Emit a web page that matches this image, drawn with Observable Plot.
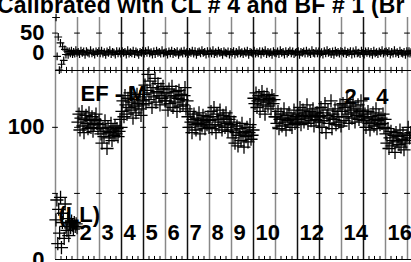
<!DOCTYPE html>
<html><head><meta charset="utf-8">
<script src="https://cdn.jsdelivr.net/npm/d3@7"></script>
<script src="https://cdn.jsdelivr.net/npm/@observablehq/plot@0.6"></script>
<style>
html,body{margin:0;padding:0;background:#fff;width:411px;height:262px;overflow:hidden;position:relative;}
#title{position:absolute;left:-3px;top:-6px;white-space:nowrap;font:bold 23px/23px "Liberation Sans",Arial,sans-serif;letter-spacing:0.15px;color:#000;}
#topPanel,#botPanel{position:absolute;left:0;}
#topPanel{top:0;} #botPanel{top:69px;}
svg{overflow:visible;}
</style></head>
<body>
<div id="title">Calibrated with CL # 4 and BF # 1 (Br</div>
<div id="topPanel"></div>
<div id="botPanel"></div>
<script>
// ---- data ----
const days = [1,2,3,4,5,6,7,8,9,10,11,12,13,14,15,16,17];
const lineColors = ["#888","#888","#888","#111","#111","#888","#111","#888","#888","#111","#888","#111","#111","#888","#111","#888","#888"];
const dayLabelText = ["2","3","4","5","6","7","8","9","10","12","14","16"];
const dayLabelX = [2,3,4,5,6,7,8,9,10,12,14,16];
const yTicksTop = [0, 50];
const yTicksBottom = [0, 100];
const axisTickValues = [50, 100];
const annText = ["EF - M", "2 - 4", "(LL)"];
const annX = [2, 14, 1];
const annY = [120, 118, 28];

// top panel (differences), values per day
const topVals = [
  [90,-10,40,-45,25,-30,15,-20,8,-5,4,-6,3,-2,5,-4,2,-3,6,-1],
  [2,-4,5,-1,3,-6,4,0,-3,6,-2,1,-5,3,-1,4],
  [-2,5,-3,1,-6,3,-1,6,-4,2,0,-5,4,-2,3,-3],
  [4,-1,2,-5,6,-3,1,-2,5,-4,3,0,-6,2,-1,5],
  [-3,4,-1,6,-2,1,-5,3,-4,5,-1,2,-3,6,-2,0],
  [1,-5,3,-2,5,-4,2,-1,4,-6,0,3,-3,5,-2,1],
  [-4,2,-1,5,-3,4,-6,1,3,-2,6,-1,2,-5,4,-3],
  [3,-2,6,-4,1,-3,5,-1,2,-6,4,0,-2,3,-5,2],
  [-1,4,-5,2,-3,6,-2,1,-4,3,-1,5,-6,2,0,-3],
  [5,-3,1,-2,4,-5,3,-1,6,-4,2,-2,1,-6,4,-1],
  [-2,3,-4,6,-1,2,-5,4,-3,1,5,-2,3,-4,0,2],
  [4,-6,2,-1,3,-3,5,-2,1,-4,6,-1,-3,4,-2,3],
  [-3,1,-5,4,-2,6,-1,2,-4,3,-6,5,-1,2,-3,4],
  [2,-2,5,-4,1,-1,4,-5,3,-3,6,-2,0,-4,5,-1],
  [-5,3,-1,4,-3,2,-6,5,-2,1,-4,3,-1,6,-3,2],
  [3,-1,4,-5,2,-3,6,-2,1,-4,5,-1,-3,2,-6,4],
  [-2,4,-3,1]
];
// bottom panel (EF), values per day
const botVals = [
  [30,45,12,38,20,47,9,28,35,16,42,25,22,31,18,27,24,29,26,23,28,25,27,24],
  [104,110,98,107,112,101,96,106,109,103,99,111,105,100,108,97,102,106,110,103,99,105],
  [102,95,88,99,93,105,97,84,100,92,96,103,90,98,94,101,95,99,93,97,106,100],
  [112,120,108,124,117,110,122,115,126,113,119,107,121,116,111,125,118,114,123,109,117,120],
  [125,132,118,128,140,121,135,126,115,130,123,137,119,127,133,124,117,129,122,131,126,120],
  [120,126,113,129,118,123,131,115,124,119,127,112,122,128,116,125,121,117,124,130,114,120],
  [108,100,112,104,96,106,110,102,98,107,103,111,95,105,101,109,104,99,106,102,108,100],
  [105,112,99,108,115,102,96,110,106,101,113,104,98,109,107,100,111,103,97,106,108,102],
  [98,92,104,88,96,101,86,94,99,90,103,95,85,97,93,100,89,96,102,91,94,98],
  [122,118,126,115,120,124,112,121,127,117,123,110,119,125,116,122,120,114,124,118,121,108],
  [108,103,112,99,106,110,101,107,114,104,98,109,105,111,102,107,100,106,113,103,108,104],
  [110,106,115,102,109,113,104,111,107,117,103,108,112,105,110,114,101,109,106,111,108,104],
  [108,115,100,111,105,118,96,109,113,103,107,120,99,110,106,114,102,108,112,104,117,101],
  [112,118,105,115,108,121,110,103,116,113,107,119,111,104,114,109,117,106,112,120,108,113],
  [105,110,100,107,112,103,98,108,104,111,101,106,114,99,105,109,102,107,103,110,100,106],
  [95,88,99,84,92,97,86,90,94,81,96,89,93,87,98,85,91,95,83,90,88,94],
  [100,92,96]
];

function flatten(vals){
  const out = [];
  vals.forEach((arr, k) => {
    const d = days[k], n = arr.length;
    const span = (k === vals.length - 1) ? 0.18 : 1;
    arr.forEach((v, i) => out.push({x: d + span * (i + 0.5) / n, y: v}));
  });
  return out;
}
const topData = flatten(topVals);
const botData = flatten(botVals);
const dayRows = days.map((d, i) => ({d, c: lineColors[i]}));
const minorTicks = d3.range(1, 17.2, 0.25).filter(v => v % 1 !== 0);
const xDomain = [1, 1 + 356 / 22];
const font = {fontFamily: "'Liberation Sans', Arial, sans-serif", fontWeight: "bold", fontSize: "22px", background: "transparent", color: "#000"};

const topChart = Plot.plot({
  width: 411, height: 70, marginTop: 17, marginBottom: 0, marginLeft: 55, marginRight: 0,
  x: {domain: xDomain, axis: null},
  y: {domain: [-46, 90], axis: null},
  color: {type: "identity"},
  style: font,
  marks: [
    Plot.ruleX(dayRows, {x: "d", stroke: "c", strokeWidth: 1.5}),
    Plot.ruleY(dayRows, {y: 50, x1: r => r.d - 0.13, x2: r => r.d + 0.13, stroke: "#000"}),
    Plot.ruleX(minorTicks, {x: d => d, y1: -46, y2: -38, stroke: "#000"}),
    Plot.axisY(yTicksTop, {label: null, tickSize: 0, tickPadding: 11, fontSize: 22, fontWeight: "bold"}),
    Plot.dot(topData, {x: "x", y: "y", symbol: "times", rotate: 45, r: 2.6, stroke: "#000", strokeWidth: 1.2})
  ]
});
document.getElementById("topPanel").appendChild(topChart);

const botChart = Plot.plot({
  width: 411, height: 205, marginTop: 1, marginBottom: 15, marginLeft: 55, marginRight: 0,
  x: {domain: xDomain, axis: null},
  y: {domain: [0, 143], axis: null},
  color: {type: "identity"},
  style: font,
  marks: [
    Plot.ruleX(dayRows, {x: "d", stroke: "c", strokeWidth: 1.5}),
    Plot.ruleY(dayRows.flatMap(r => axisTickValues.map(v => ({d: r.d, v}))), {y: "v", x1: r => r.d - 0.13, x2: r => r.d + 0.13, stroke: "#000"}),
    Plot.ruleY([143, 0], {stroke: "#000", strokeWidth: 1.2}),
    Plot.ruleX(minorTicks, {x: d => d, y1: 143, y2: 140.7, stroke: "#000"}),
    Plot.ruleX(minorTicks, {x: d => d, y1: 0, y2: 2.3, stroke: "#000"}),
    Plot.axisY(yTicksBottom, {label: null, tickSize: 0, tickPadding: 11, fontSize: 22, fontWeight: "bold"}),
    Plot.text(annText, {x: (d, i) => annX[i], y: (d, i) => annY[i], text: d => d, textAnchor: "start", lineAnchor: "bottom", dx: 3, fontSize: 22, fontWeight: "bold", fill: "#000"}),
    Plot.text(dayLabelText, {x: (d, i) => dayLabelX[i], y: 14.4, text: d => d, textAnchor: "start", lineAnchor: "bottom", dx: 2, fontSize: 22, fontWeight: "bold", fill: "#000"}),
    Plot.dot(botData, {x: "x", y: "y", symbol: "times", rotate: 45, r: 4.3, stroke: "#000", strokeWidth: 1.3})
  ]
});
document.getElementById("botPanel").appendChild(botChart);
</script>
</body></html>
